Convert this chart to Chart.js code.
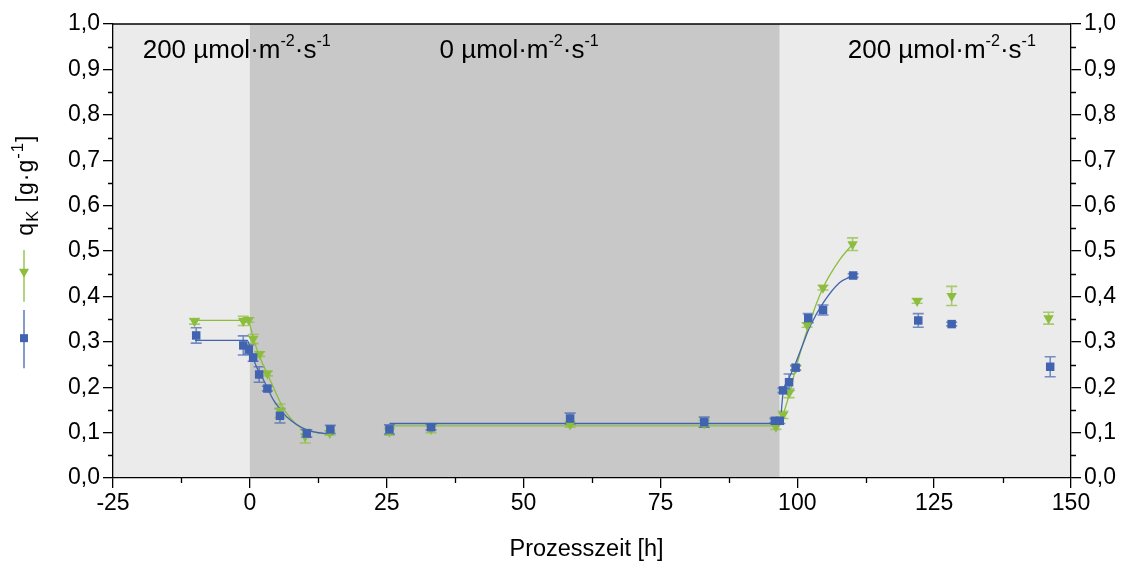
<!DOCTYPE html>
<html>
<head>
<meta charset="utf-8">
<script src="https://cdn.jsdelivr.net/npm/chart.js@4.4.1/dist/chart.umd.min.js"></script>
<style>
  body { margin: 0; background: #fff; }
  #wrap { width: 1127px; height: 561px; position: relative; }
</style>
</head>
<body>
<div id="wrap"><canvas id="qkChart"></canvas></div>
<script>
// Messwerte Reihe 1 (blau, Quadrate)
const blueX   = [-9.8, -1.2, -0.2, 0.6, 1.7, 3.2, 5.5, 10.4, 14.7, 25.5, 33.1, 58.5, 83.0, 95.9, 96.8, 97.4, 98.5, 99.7, 102.0, 104.7, 110.2, 122.1, 128.2, 146.2];
const blueY   = [0.314, 0.292, 0.283, 0.265, 0.228, 0.197, 0.137, 0.098, 0.107, 0.107, 0.112, 0.131, 0.123, 0.126, 0.126, 0.193, 0.211, 0.243, 0.352, 0.370, 0.446, 0.347, 0.339, 0.245];
const blueErr = [0.017, 0.021, 0.010, 0.008, 0.017, 0.005, 0.016, 0.008, 0.009, 0.010, 0.006, 0.012, 0.011, 0.005, 0.006, 0.005, 0.018, 0.005, 0.010, 0.011, 0.004, 0.015, 0.004, 0.022];

// Messwerte Reihe 2 (gruen, Dreiecke)
const greenX   = [-10.1, -1.2, -0.2, 0.6, 1.8, 3.2, 5.5, 10.1, 14.6, 25.5, 33.1, 58.5, 83.0, 96.1, 97.4, 98.5, 99.7, 101.8, 104.7, 110.1, 121.9, 128.2, 145.9];
const greenY   = [0.345, 0.346, 0.348, 0.306, 0.273, 0.230, 0.148, 0.092, 0.099, 0.102, 0.108, 0.118, 0.120, 0.113, 0.139, 0.187, 0.242, 0.337, 0.419, 0.515, 0.390, 0.401, 0.352];
const greenErr = [0.006, 0.010, 0.005, 0.010, 0.005, 0.005, 0.015, 0.015, 0.005, 0.008, 0.008, 0.006, 0.008, 0.006, 0.008, 0.010, 0.005, 0.005, 0.005, 0.014, 0.005, 0.021, 0.013];

// Fitkurven (null = Luecke)
const blueFitX  = [-10, -0.5, 0, 0.3, 1.2, 2.5, 4.3, 5.5, 6.7, 10.4, 15.2, 15.3, 25.5, 96.8, 97.4, 98.6, 99.7, 101.1, 102.3, 104.7, 107.7, 110.2];
const blueFitY  = [0.303, 0.303, 0.29, 0.275, 0.245, 0.216, 0.172, 0.152, 0.135, 0.106, 0.096, null, 0.120, 0.120, 0.187, 0.223, 0.253, 0.297, 0.333, 0.385, 0.430, 0.446];
const greenFitX = [-10, -0.3, 0.1, 0.9, 1.8, 3.1, 4.3, 5.5, 6.7, 9.1, 12.2, 15.2, 15.3, 25.5, 96.2, 97.4, 98.5, 99.7, 102.0, 104.7, 107.7, 110.1];
const greenFitY = [0.347, 0.347, 0.333, 0.297, 0.267, 0.231, 0.200, 0.168, 0.143, 0.113, 0.100, 0.097, null, 0.115, 0.115, 0.140, 0.183, 0.240, 0.333, 0.419, 0.480, 0.515];

// Belichtungsphasen
const phaseBounds = [-25, 0, 96.8, 150];
const phaseColors = ['#ebebeb', '#c8c8c8', '#ebebeb'];
const phaseLabels = ['200', '0', '200'];
const phaseLabelX = [-2.4, 49.2, 126.4];

const xTicks = [-25, 0, 25, 50, 75, 100, 125, 150];
const yTicks = [0, 0.1, 0.2, 0.3, 0.4, 0.5, 0.6, 0.7, 0.8, 0.9, 1.0];

const BLUE = '#4264b0';
const GREEN = '#8cbd3c';
const FONT = 'Liberation Sans, Arial, Helvetica, sans-serif';

const toPts = (xs, ys) => xs.map((x, i) => ({ x: x, y: ys[i] }));
const fmt = v => Number(v).toFixed(1).replace('.', ',');

// Text mit Hoch-/Tiefstellung zeichnen, parts: [text, 0=normal, 1=hoch, -1=tief]
function richWidth(ctx, parts, size, sub) {
    let w = 0;
    parts.forEach(p => {
        ctx.font = (p[1] ? size * sub : size) + 'px ' + FONT;
        w += ctx.measureText(p[0]).width;
    });
    return w;
}
function drawRich(ctx, parts, x, y, size, sub) {
    ctx.textBaseline = 'alphabetic';
    ctx.textAlign = 'left';
    parts.forEach(p => {
        const s = p[1] ? size * sub : size;
        ctx.font = s + 'px ' + FONT;
        let dy = 0;
        if (p[1] === 1) dy = -size * 0.45;
        if (p[1] === -1) dy = size * 0.2;
        ctx.fillText(p[0], x, y + dy);
        x += ctx.measureText(p[0]).width;
    });
}

const decorPlugin = {
    id: 'decor',
    beforeDraw(chart) {
        const { ctx, chartArea: a, scales: { x } } = chart;
        ctx.save();
        for (let i = 0; i < phaseColors.length; i++) {
            const x0 = x.getPixelForValue(phaseBounds[i]);
            const x1 = x.getPixelForValue(phaseBounds[i + 1]);
            ctx.fillStyle = phaseColors[i];
            ctx.fillRect(x0, a.top, x1 - x0, a.bottom - a.top);
        }
        ctx.restore();
    },
    beforeDatasetsDraw(chart) {
        const { ctx, scales: { x, y } } = chart;
        ctx.save();
        const bars = (xs, ys, es, col) => {
            ctx.strokeStyle = col;
            ctx.lineWidth = 1.6;
            xs.forEach((v, i) => {
                const px = x.getPixelForValue(v);
                const p0 = y.getPixelForValue(ys[i] - es[i]);
                const p1 = y.getPixelForValue(ys[i] + es[i]);
                ctx.beginPath();
                ctx.moveTo(px, p0); ctx.lineTo(px, p1);
                ctx.moveTo(px - 5.5, p0); ctx.lineTo(px + 5.5, p0);
                ctx.moveTo(px - 5.5, p1); ctx.lineTo(px + 5.5, p1);
                ctx.stroke();
            });
        };
        bars(greenX, greenY, greenErr, 'rgba(140,189,60,0.7)');
        bars(blueX, blueY, blueErr, 'rgba(66,100,176,0.7)');
        ctx.restore();
    },
    afterDraw(chart) {
        const { ctx, chartArea: a, scales: { x, y } } = chart;
        ctx.save();
        // Rahmen oben
        ctx.strokeStyle = '#000';
        ctx.lineWidth = 1.3;
        ctx.beginPath();
        ctx.moveTo(a.left, a.top); ctx.lineTo(a.right, a.top);
        ctx.stroke();
        // Nebenstriche
        ctx.beginPath();
        for (let v = 0.05; v < 1; v += 0.1) {
            const py = Math.round(y.getPixelForValue(v)) + 0.5;
            ctx.moveTo(a.left - 5, py); ctx.lineTo(a.left, py);
            ctx.moveTo(a.right, py); ctx.lineTo(a.right + 5, py);
        }
        for (let v = -12.5; v < 150; v += 25) {
            const px = Math.round(x.getPixelForValue(v)) + 0.5;
            ctx.moveTo(px, a.bottom); ctx.lineTo(px, a.bottom + 5);
        }
        ctx.stroke();

        ctx.fillStyle = '#000';
        // x-Achsentitel
        ctx.font = '23.5px ' + FONT;
        ctx.textAlign = 'center';
        ctx.textBaseline = 'alphabetic';
        ctx.fillText('Prozesszeit [h]', x.getPixelForValue(61.5), a.bottom + 78);

        // Phasenbeschriftung
        const size = 26;
        phaseLabels.forEach((t, i) => {
            const parts = [[t + ' \u00b5mol\u00b7m', 0], ['-2', 1], ['\u00b7s', 0], ['-1', 1]];
            const w = richWidth(ctx, parts, size, 0.62);
            drawRich(ctx, parts, x.getPixelForValue(phaseLabelX[i]) - w / 2, y.getPixelForValue(0.925), size, 0.62);
        });

        // Achsentitel links (gedreht) mit Legende
        ctx.translate(33, y.getPixelForValue(0.645));
        ctx.rotate(-Math.PI / 2);
        ctx.letterSpacing = '1px';
        const tParts = [['q', 0], ['K', -1], [' [g\u00b7g', 0], ['-1', 1], [']', 0]];
        const tw = richWidth(ctx, tParts, 23, 0.72);
        drawRich(ctx, tParts, -tw / 2, 0, 23, 0.72);
        ctx.restore();

        // Legendensymbole
        ctx.save();
        const lx = 24;
        const gTop = y.getPixelForValue(0.502), gBot = y.getPixelForValue(0.388), gMid = y.getPixelForValue(0.452);
        const bTop = y.getPixelForValue(0.370), bBot = y.getPixelForValue(0.242), bMid = y.getPixelForValue(0.308);
        ctx.lineWidth = 1.3;
        ctx.strokeStyle = GREEN;
        ctx.beginPath(); ctx.moveTo(lx, gTop); ctx.lineTo(lx, gBot); ctx.stroke();
        ctx.fillStyle = GREEN;
        ctx.beginPath();
        ctx.moveTo(lx - 5, gMid - 4); ctx.lineTo(lx + 5, gMid - 4); ctx.lineTo(lx, gMid + 5); ctx.closePath();
        ctx.fill();
        ctx.strokeStyle = BLUE;
        ctx.beginPath(); ctx.moveTo(lx, bTop); ctx.lineTo(lx, bBot); ctx.stroke();
        ctx.fillStyle = BLUE;
        ctx.fillRect(lx - 4, bMid - 4, 8, 8);
        ctx.restore();
    }
};

const tickFont = { family: FONT, size: 23 };

new Chart(document.getElementById('qkChart').getContext('2d'), {
    type: 'scatter',
    data: {
        datasets: [
            {
                label: 'blau',
                data: toPts(blueX, blueY),
                pointStyle: 'rect',
                pointRadius: 6,
                backgroundColor: BLUE,
                borderWidth: 0
            },
            {
                label: 'gruen',
                data: toPts(greenX, greenY),
                pointStyle: 'triangle',
                rotation: 180,
                pointRadius: 6,
                backgroundColor: GREEN,
                borderWidth: 0
            },
            {
                label: 'Fit blau',
                data: toPts(blueFitX, blueFitY),
                showLine: true,
                spanGaps: false,
                cubicInterpolationMode: 'monotone',
                borderColor: BLUE,
                borderWidth: 1.3,
                pointRadius: 0
            },
            {
                label: 'Fit gruen',
                data: toPts(greenFitX, greenFitY),
                showLine: true,
                spanGaps: false,
                cubicInterpolationMode: 'monotone',
                borderColor: GREEN,
                borderWidth: 1.3,
                pointRadius: 0
            }
        ]
    },
    options: {
        responsive: true,
        maintainAspectRatio: false,
        animation: false,
        layout: { padding: { top: 24, left: 0, right: 0, bottom: 0 } },
        plugins: { legend: { display: false }, tooltip: { enabled: false } },
        scales: {
            x: {
                type: 'linear',
                min: -25,
                max: 150,
                afterBuildTicks: s => { s.ticks = xTicks.map(v => ({ value: v })); },
                afterFit: s => { s.height = 83; },
                ticks: { font: tickFont, color: '#000', padding: 2, maxRotation: 0 },
                grid: { drawOnChartArea: false, tickLength: 10, color: '#000', lineWidth: 1.3 },
                border: { color: '#000', width: 1.3 }
            },
            y: {
                position: 'left',
                min: 0,
                max: 1,
                afterBuildTicks: s => { s.ticks = yTicks.map(v => ({ value: v })); },
                afterFit: s => { s.width = 113; },
                ticks: { font: tickFont, color: '#000', padding: 3, callback: fmt },
                grid: { drawOnChartArea: false, tickLength: 10, color: '#000', lineWidth: 1.3 },
                border: { color: '#000', width: 1.3 }
            },
            y2: {
                position: 'right',
                min: 0,
                max: 1,
                afterBuildTicks: s => { s.ticks = yTicks.map(v => ({ value: v })); },
                afterFit: s => { s.width = 56; },
                ticks: { font: tickFont, color: '#000', padding: 3, callback: fmt },
                grid: { drawOnChartArea: false, tickLength: 10, color: '#000', lineWidth: 1.3 },
                border: { color: '#000', width: 1.3 }
            }
        }
    },
    plugins: [decorPlugin]
});
</script>
</body>
</html>
